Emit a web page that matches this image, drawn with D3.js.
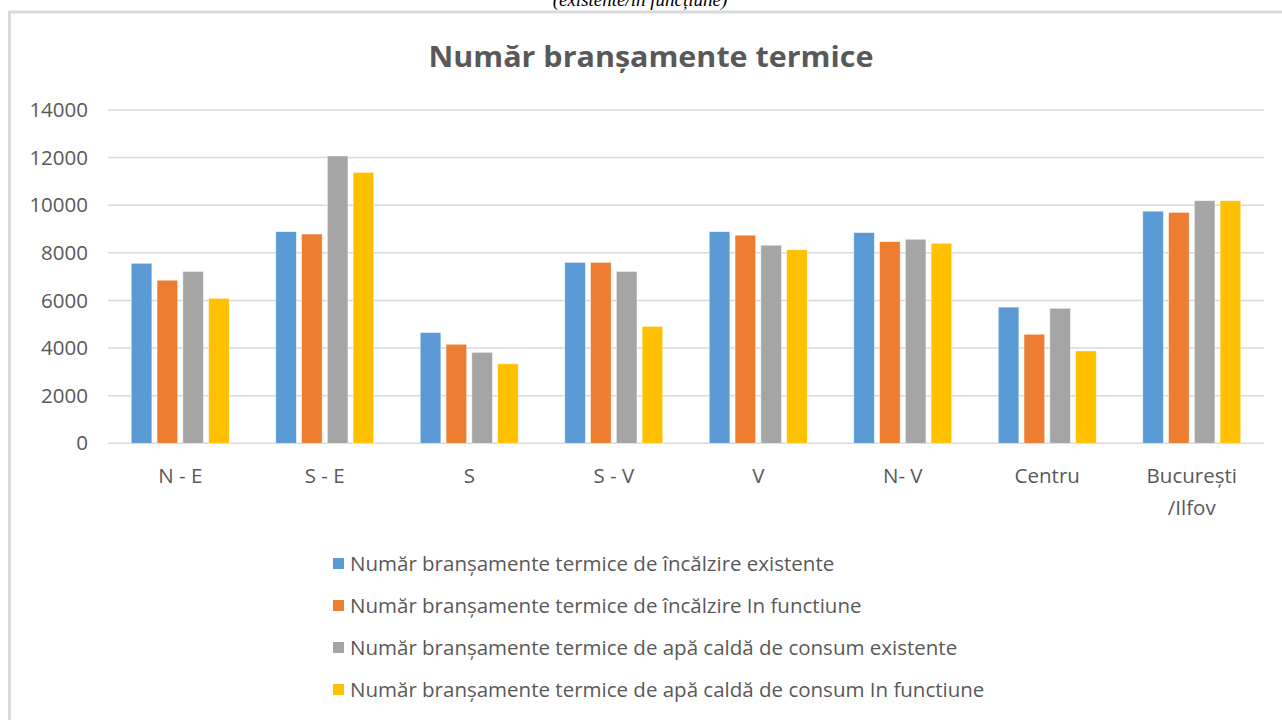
<!DOCTYPE html>
<html>
<head>
<meta charset="utf-8">
<script src="https://cdn.jsdelivr.net/npm/d3@7"></script>
<style>
  html, body { margin: 0; padding: 0; background: #fff; }
  svg { display: block; }
</style>
</head>
<body>
<svg id="chart" width="1282" height="720"></svg>
<script>
// regiuni
const categories = [["N - E"], ["S - E"], ["S"], ["S - V"], ["V"], ["N- V"], ["Centru"], ["București", "/Ilfov"]];
const seriesNames = [
	"Număr branșamente termice de încălzire existente",
	"Număr branșamente termice de încălzire In functiune",
	"Număr branșamente termice de apă caldă de consum existente",
	"Număr branșamente termice de apă caldă de consum In functiune"
];
const incalzireExist = [7560, 8890, 4650, 7600, 8890, 8850, 5720, 9750];
const incalzireFunct = [6850, 8790, 4160, 7600, 8740, 8470, 4580, 9700];
const apaExist = [7220, 12070, 3820, 7220, 8320, 8570, 5670, 10190];
const apaFunct = [6090, 11380, 3340, 4910, 8130, 8400, 3880, 10190];
const yTicks = [0, 2000, 4000, 6000, 8000, 10000, 12000, 14000];
const colors = ["#5B9BD5", "#ED7D31", "#A5A5A5", "#FFC000"];

const values = [incalzireExist, incalzireFunct, apaExist, apaFunct];

const svg = d3.select("#chart");
const font = "'Open Sans', 'Noto Sans', sans-serif";

// frame of the embedded chart
svg.append("rect")
	.attr("x", 9.5).attr("y", 12)
	.attr("width", 1290).attr("height", 720)
	.attr("fill", "#fff")
	.attr("stroke", "#d9d9d9")
	.attr("stroke-width", 3);

// caption above the frame (cropped in the source too)
svg.append("text")
	.attr("x", 640).attr("y", 6)
	.attr("text-anchor", "middle")
	.attr("font-family", "'Liberation Serif', serif")
	.attr("font-style", "italic")
	.attr("font-size", 19)
	.attr("fill", "#000")
	.text("(existente/in funcțiune)");

// title
svg.append("text")
	.attr("x", 651).attr("y", 67)
	.attr("text-anchor", "middle")
	.attr("font-family", font)
	.attr("font-weight", "bold")
	.attr("font-size", 28)
	.attr("fill", "#595959")
	.attr("textLength", 445)
	.attr("lengthAdjust", "spacingAndGlyphs")
	.text("Număr branșamente termice");

const margin = {left: 108, right: 1264, top: 110, bottom: 443.3};

const x = d3.scaleBand()
	.domain(d3.range(categories.length))
	.range([margin.left, margin.right]);

const y = d3.scaleLinear()
	.domain([0, 14000])
	.range([margin.bottom, margin.top]);

const inner = d3.scaleBand()
	.domain(d3.range(values.length))
	.range([0, 98])
	.paddingInner(0.2);

// grid
svg.append("g")
	.selectAll("line")
	.data(yTicks)
	.join("line")
	.attr("x1", margin.left).attr("x2", margin.right)
	.attr("y1", d => y(d)).attr("y2", d => y(d))
	.attr("stroke", "#d9d9d9")
	.attr("stroke-width", 1.5);

// y axis labels
const yAxis = g => g.attr("transform", `translate(${margin.left - 20}, 0)`)
	.call(d3.axisLeft(y).tickValues(yTicks).tickFormat(d3.format("d")).tickSize(0).tickPadding(0))
	.call(g => g.select(".domain").remove())
	.call(g => g.selectAll("text")
		.attr("font-family", font)
		.attr("font-size", 20.5)
		.attr("fill", "#595959"));
svg.append("g").call(yAxis);

// bars
values.forEach((vals, si) => {
	svg.append("g")
		.selectAll("rect")
		.data(vals)
		.join("rect")
		.attr("x", (d, i) => x(i) + (x.bandwidth() - 98) / 2 + inner(si))
		.attr("y", d => y(d))
		.attr("width", inner.bandwidth())
		.attr("height", d => y(0) - y(d))
		.attr("fill", colors[si])
		.attr("stroke", "#fff")
		.attr("stroke-opacity", 0.6)
		.attr("stroke-width", 0.75);
});

// x labels
const xl = svg.append("g")
	.selectAll("text")
	.data(categories)
	.join("text")
	.attr("x", (d, i) => x(i) + x.bandwidth() / 2)
	.attr("y", 483)
	.attr("text-anchor", "middle")
	.attr("font-family", font)
	.attr("font-size", 20.5)
	.attr("fill", "#595959");
xl.selectAll("tspan")
	.data(d => d)
	.join("tspan")
	.attr("x", function() { return d3.select(this.parentNode).attr("x"); })
	.attr("dy", (d, i) => i === 0 ? 0 : 32)
	.text(d => d);

// legend
const legend = svg.append("g")
	.selectAll("g")
	.data(seriesNames)
	.join("g")
	.attr("transform", (d, i) => `translate(333, ${564 + i * 42})`);
legend.append("rect")
	.attr("x", 0).attr("y", -6)
	.attr("width", 11).attr("height", 11)
	.attr("fill", (d, i) => colors[i]);
legend.append("text")
	.attr("x", 17).attr("y", 7)
	.attr("font-family", font)
	.attr("font-size", 20.5)
	.attr("fill", "#595959")
	.text(d => d);
</script>
</body>
</html>
